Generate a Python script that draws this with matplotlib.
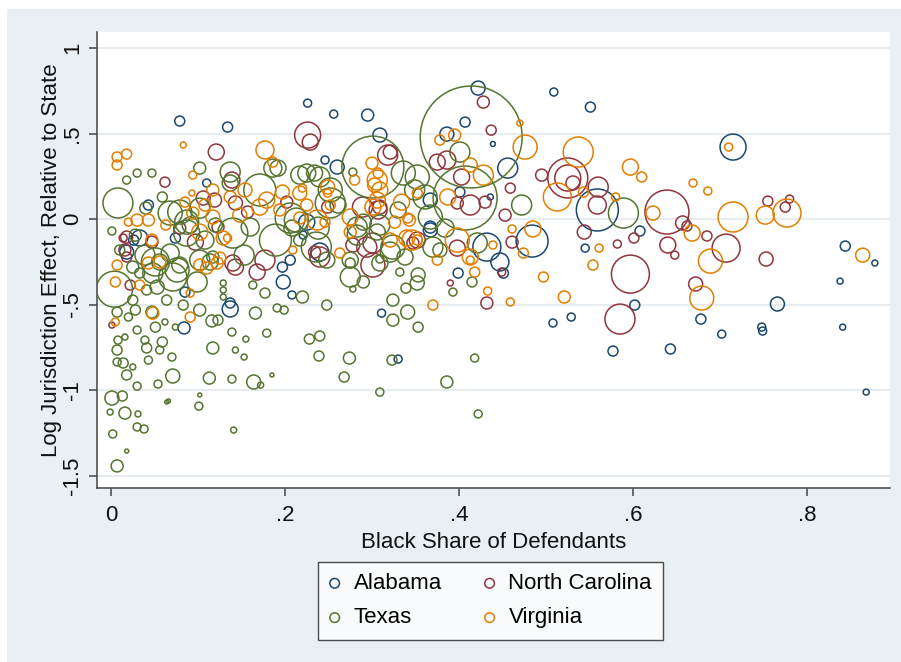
import matplotlib
matplotlib.use('Agg')
import matplotlib.pyplot as plt
from matplotlib.patches import Rectangle

plt.rcParams['font.family'] = ['Liberation Sans', 'DejaVu Sans']

# ---------------- data ----------------
states = ['Alabama', 'North Carolina', 'Texas', 'Virginia']
state_colors = ['#1a476f', '#90353b', '#55752f', '#e37e00']

al_x = [.079, .134, .226, .256, .295, .309, .386, .407, .422, .509, .551, .715, .246, .260, .367, .367,
        .439, .456, .401, .436, .559, .608, .484, .432, .447, .399, .451, .545, .602, .766, .678, .508,
        .529, .844, .878, .838, .577, .643, .702, .748, .749, .841, .868, .043, .110, .033, .018, .225,
        .221, .240, .206, .208, .137, .084, .311, .330, .198, .085, .197, .074, .026, .137, .367]
al_y = [.573, .538, .678, .614, .608, .491, .497, .567, .766, .743, .655, .421, .345, .304, .111, -.064,
        .439, .298, .158, .129, .053, -.070, -.129, -.164, -.251, -.316, -.316, -.170, -.503, -.497, -.585, -.608,
        -.573, -.158, -.257, -.363, -.772, -.760, -.673, -.632, -.655, -.632, -1.012, .082, .211, -.111, -.193, -.018,
        -.094, -.193, -.240, -.444, -.526, -.637, -.550, -.819, -.368, -.427, -.281, -.111, -.123, -.491, -.047]
al_w = [25, 25, 16, 16, 36, 49, 49, 25, 49, 16, 25, 169, 16, 49, 49, 49,
        6, 100, 25, 9, 441, 25, 256, 196, 81, 25, 25, 16, 25, 49, 25, 16,
        16, 25, 9, 9, 25, 25, 16, 16, 16, 9, 9, 25, 16, 64, 49, 64,
        16, 81, 25, 16, 64, 36, 16, 16, 49, 25, 25, 25, 25, 25, 36]

nc_x = [.226, .229, .121, .062, .139, .106, .143, .157, .202, .018, .047, .123, .097, .140, .177, .014,
        .018, .001, .318, .321, .386, .375, .428, .403, .413, .249, .289, .307, .430, .278, .294, .301,
        .352, .398, .240, .390, .432, .437, .459, .453, .461, .449, .495, .525, .525, .531, .559, .560,
        .544, .582, .601, .639, .657, .662, .640, .648, .597, .585, .685, .707, .753, .672, .755, .775,
        .780, .143, .022, .398, .347, .234, .079, .016, .168, .301, .309, .119]
nc_y = [.491, .450, .392, .216, .228, .123, .094, .041, .099, -.105, -.135, -.047, -.135, -.257, -.240, -.111,
        -.222, -.620, .374, .392, .345, .333, .684, .246, .082, .070, .070, .053, .099, -.152, -.164, -.269,
        -.123, -.170, -.222, -.374, -.491, .520, .181, .023, -.135, -.310, .257, .240, .240, .211, .082, .187,
        -.076, -.146, -.111, .041, -.023, -.041, -.152, -.211, -.322, -.585, -.099, -.170, -.234, -.380, .105, .070,
        .117, -.281, -.386, .094, -.140, -.193, -.053, -.181, -.310, -.140, .070, .111]
nc_w = [169, 64, 64, 25, 64, 49, 49, 36, 36, 36, 36, 36, 64, 64, 100, 16,
        25, 9, 100, 49, 81, 64, 36, 64, 100, 36, 100, 81, 36, 49, 100, 144,
        64, 64, 100, 9, 36, 25, 25, 36, 36, 16, 36, 400, 169, 49, 81, 100,
        49, 16, 25, 484, 49, 25, 64, 16, 361, 225, 25, 196, 49, 49, 25, 25,
        16, 64, 25, 36, 36, 36, 36, 36, 64, 100, 49, 49]

tx_x = [.008, .004, .071, .048, .140, .171, .189, .301, .414, .407, .079, .252, .589, .472, .401, .336,
        .352, .349, .367, .324, .338, .217, .240, .252, .361, .290, .321, .283, .421, .137, .186, .192,
        .087, .225, .234, .278, .018, .030, .047, .059, .102, .137, .040, .001, .275, .290, .275, .278,
        .309, .332, .353, .352, .339, .324, .341, .324, .353, .415, .393, .220, .248, .228, .240, .239,
        .274, .323, .268, .386, .418, .309, .422, .179, .155, .153, .143, .117, .113, .139, .164, .172,
        .185, .101, .102, .141, .071, .070, .066, .054, .043, .007, .020, .028, .047, .051, .062, .030,
        .008, .016, .039, .059, .007, .041, .056, .007, .014, .025, .018, .030, .013, .001, -.001, .016,
        .031, .030, .038, .002, .018, .007, .064, .166, .191, .199, .177, .163, .129, .129, .129, .102,
        .083, .074, .116, .123, .139, .025, .033, .041, .025, .053, .064, .068, .039, .056, .102, .117,
        .079, .108, .120, .091, .160, .208, .217, .238, .261, .309, .330, .384, .378, .010, .028,
        .068, .087, .102, .051, .076, .099, .153, .114, .206, .213, .283, .236, .248, .275, .309, .370, .306]
tx_y = [.094, -.410, -.339, -.316, -.082, .170, -.123, .304, .480, .123, .041, .094, .035, .082, .392, .269,
        .246, .170, .012, -.164, -.222, .257, .246, .170, .129, -.018, -.193, -.094, -.140, .275, .298, .298,
        -.082, .269, .269, .275, .228, .269, .269, .129, .298, .211, .064, -.070, -.257, -.368, -.339, -.409,
        -.234, -.310, -.327, -.374, -.404, -.474, -.544, -.591, -.632, -.368, -.427, -.456, -.503, -.702, -.684, -.801,
        -.813, -.825, -.924, -.953, -.813, -1.012, -1.140, -.667, -.702, -.807, -.766, -.754, -.930, -.936, -.953, -.971,
        -.912, -1.094, -1.029, -1.234, -.918, -.807, -1.064, -.965, -.825, -.544, -.573, -.532, -.544, -.632, -.602, -.649,
        -.708, -.690, -.708, -.719, -.766, -.754, -.766, -.836, -.842, -.865, -.912, -.977, -1.035, -1.047, -1.129, -1.135,
        -1.140, -1.216, -1.228, -1.257, -1.357, -1.444, -1.070, -.550, -.520, -.532, -.433, -.386, -.374, -.415, -.456, -.532,
        -.503, -.632, -.596, -.591, -.661, -.281, -.316, -.415, -.474, -.398, -.474, -.199, -.211, -.251, -.240, -.222,
        -.269, -.123, -.035, -.035, -.047, -.053, -.123, -.053, .082, -.035, .053, -.053, -.181, -.181, -.094,
        .035, -.018, .064, -.251, -.298, -.368, -.211, -.251, .006, -.006, -.047, -.164, -.240, -.240, -.257, -.164, -.076]
tx_w = [225, 324, 196, 100, 225, 256, 256, 961, 2601, 1024, 144, 225, 225, 100, 100, 144,
        144, 100, 144, 144, 64, 81, 100, 144, 144, 64, 100, 100, 100, 100, 81, 64,
        169, 81, 64, 16, 16, 16, 16, 25, 36, 64, 36, 16, 25, 36, 100, 9,
        16, 16, 49, 49, 25, 36, 49, 36, 25, 25, 16, 36, 25, 25, 25, 25,
        36, 25, 25, 36, 16, 16, 16, 16, 9, 9, 9, 36, 36, 16, 49, 9,
        4, 16, 4, 9, 49, 16, 4, 16, 16, 25, 16, 25, 36, 25, 9, 16,
        16, 9, 16, 25, 25, 25, 16, 16, 25, 9, 25, 16, 25, 49, 9, 36,
        9, 16, 16, 16, 4, 36, 4, 36, 16, 16, 25, 16, 9, 9, 9, 36,
        25, 9, 36, 25, 16, 36, 25, 25, 25, 49, 25, 81, 100, 64, 100, 36,
        64, 81, 49, 64, 81, 64, 36, 121, 64, 100, 64, 81, 49, 25, 36,
        144, 144, 100, 196, 144, 100, 100, 64, 225, 144, 100, 225, 64, 64, 64, 100, 64]

va_x = [.007, .018, .007, .083, .177, .186, .094, .093, .117, .197, .300, .303, .307, .306, .249, .220,
        .225, .275, .334, .341, .352, .020, .030, .043, .047, .007, .005, .033, .043, .085, .094, .117,
        .102, .110, .122, .125, .091, .134, .209, .263, .321, .340, .352, .370, .246, .179, .171, .194,
        .470, .476, .537, .597, .610, .513, .543, .580, .623, .669, .686, .715, .752, .777, .668, .689,
        .679, .485, .474, .497, .521, .459, .433, .554, .561, .864, .710, .428, .395, .461, .439, .413,
        .418, .091, .048, .005, .375, .275, .326, .137, .154, .280, .387, .217, .252, .378, .413, .108,
        .148, .063, .056, .102, .129, .309, .301, .217, .237, .398, .413, .346, .249, .306, .343]
va_y = [.363, .380, .316, .433, .404, .333, .257, .152, .170, .158, .327, .199, .269, .111, .152, .181,
        .082, .012, .099, .006, .152, -.018, -.006, -.006, -.123, -.269, -.368, -.386, -.257, .099, .035, .012,
        -.269, -.287, -.257, -.228, -.433, -.111, -.181, -.199, -.123, -.111, -.123, -.503, -.018, .111, .070, .053,
        .561, .421, .392, .304, .246, .129, .158, .129, .035, .211, .164, .012, .023, .035, -.082, -.246,
        -.462, -.058, -.199, -.339, -.456, -.485, -.421, -.269, -.170, -.211, .421, .257, .491, -.058, -.152, -.240,
        -.310, -.573, -.550, -.602, -.240, -.076, -.018, .129, .170, .228, .129, .006, .082, .462, .316, .082,
        .023, -.035, -.251, -.076, -.111, .170, .070, .152, -.006, -.123, -.222, -.123, .187, .228, -.006]
va_w = [25, 25, 25, 9, 81, 25, 16, 9, 36, 49, 36, 49, 25, 64, 16, 16,
        36, 64, 64, 25, 25, 16, 36, 36, 36, 25, 25, 25, 36, 25, 36, 49,
        36, 36, 36, 36, 16, 16, 16, 25, 49, 64, 25, 25, 25, 64, 64, 36,
        9, 144, 225, 64, 25, 196, 25, 16, 49, 16, 16, 225, 81, 196, 64, 144,
        144, 64, 25, 25, 36, 16, 16, 25, 16, 49, 16, 100, 36, 16, 16, 16,
        25, 25, 36, 16, 25, 36, 36, 36, 49, 25, 64, 36, 25, 25, 49, 36,
        49, 25, 36, 64, 49, 64, 64, 49, 100, 144, 64, 100, 49, 100, 36]

xticks = [0, .2, .4, .6, .8]
xtick_labels = ['0', '.2', '.4', '.6', '.8']
yticks = [1, .5, 0, -.5, -1, -1.5]
ytick_labels = ['1', '.5', '0', '-.5', '-1', '-1.5']

# ---------------- figure ----------------
W, H = 901, 662
fig = plt.figure(figsize=(W / 100, H / 100), dpi=100)
fig.patch.set_facecolor('white')
fig.patches.append(Rectangle((7 / W, 0), (W - 7) / W, (H - 9) / H, transform=fig.transFigure,
                             facecolor='#e9eff2', edgecolor='none', zorder=-10))

ax = fig.add_axes([97 / W, 1 - 488 / H, (890 - 97) / W, (488 - 32) / H])
ax.set_facecolor('white')
ax.set_xlim(-0.0161, 0.8954)
ax.set_ylim(-1.573, 1.094)

for yv in yticks:
    ax.axhline(yv, color='#e4ebef', lw=1.3, zorder=0)

size_scale = 2.07
series = [(al_x, al_y, al_w), (nc_x, nc_y, nc_w), (tx_x, tx_y, tx_w), (va_x, va_y, va_w)]
handles = []
for (xs, ys, ws), name, col in zip(series, states, state_colors):
    h = ax.scatter(xs, ys, s=[w * size_scale for w in ws], facecolors='none', edgecolors=col,
                   linewidths=1.1, label=name, zorder=3)
    handles.append(h)

for side in ['top', 'right']:
    ax.spines[side].set_visible(False)
for side in ['left', 'bottom']:
    ax.spines[side].set_color('#444444')
    ax.spines[side].set_linewidth(1.1)

ax.set_xticks(xticks)
ax.set_xticklabels(xtick_labels)
ax.set_yticks(yticks)
ax.set_yticklabels(ytick_labels, rotation=90, va='center')
ax.tick_params(axis='both', length=6, width=1.1, color='#444444', labelsize=16, labelcolor='#111111')
ax.tick_params(axis='x', pad=6)
ax.tick_params(axis='y', pad=4)

ax.set_xlabel('Black Share of Defendants', fontsize=16, color='#111111', labelpad=4.5)
ax.set_ylabel('Log Jurisdiction Effect, Relative to State', fontsize=16, color='#111111', labelpad=0)

order = [0, 2, 1, 3]
leg = fig.legend([handles[i] for i in order], [states[i] for i in order],
                 loc='upper left', bbox_to_anchor=(318 / W, 1 - 562 / H), ncol=2,
                 fontsize=16, frameon=True, fancybox=False, edgecolor='#222222',
                 borderpad=0.5, labelspacing=0.6, handlelength=0.5, handletextpad=0.6,
                 columnspacing=1.9, borderaxespad=0)
leg.get_frame().set_linewidth(1.0)
leg.get_frame().set_facecolor('white')
for lh in leg.legend_handles:
    lh.set_sizes([48])

fig.savefig('out.png', dpi=100, facecolor=fig.get_facecolor())
